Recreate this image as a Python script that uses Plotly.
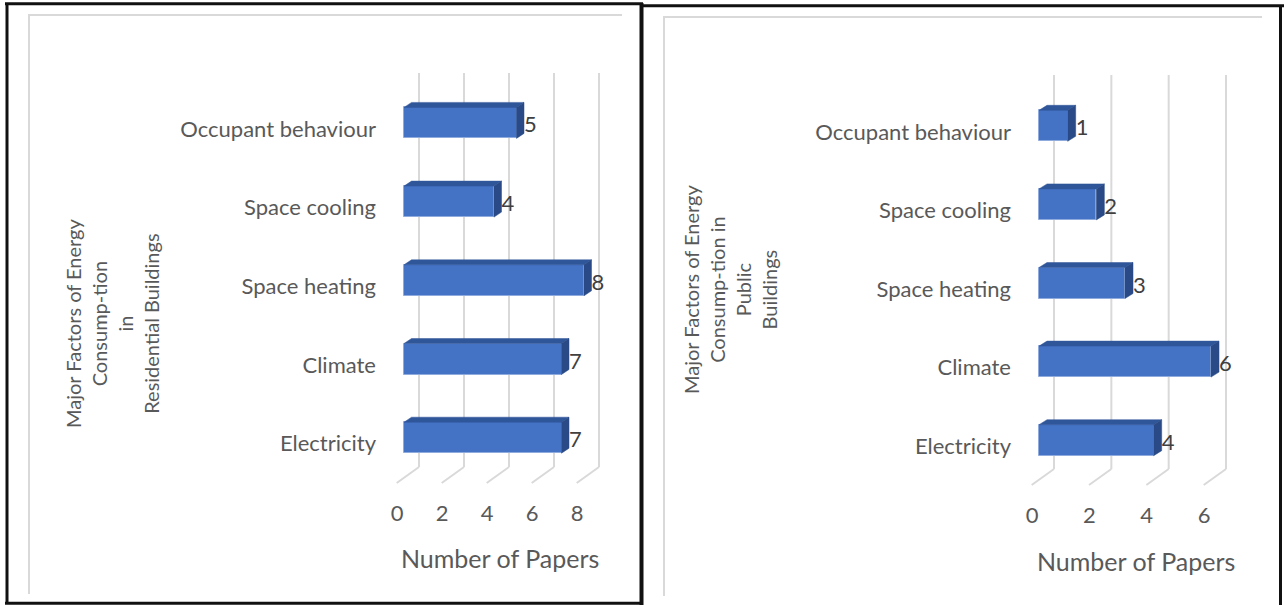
import plotly.graph_objects as go

W, H = 1284, 605

# ---------------- data ----------------
categories = ["Electricity", "Climate", "Space heating", "Space cooling", "Occupant behaviour"]
residential_papers = [7, 7, 8, 4, 5]
public_papers = [4, 6, 3, 2, 1]
residential_ticks = [0, 2, 4, 6, 8]
public_ticks = [0, 2, 4, 6]
x_title = "Number of Papers"
residential_title = "Major Factors of Energy<br>Consump-tion<br>in<br>Residential Buildings"
public_title = "Major Factors of Energy<br>Consump-tion in<br>Public<br>Buildings"

# ---------------- styling / geometry ----------------
FONT = "Lato"
TXT = "#595959"
VAL = "#404040"
FRONT = "#4472C4"
TOP = "#30569A"
SIDE = "#294A86"
GRID = "#D9D9D9"

panels = [
    dict(sfx="", vals=residential_papers, ticks=residential_ticks, title=residential_title,
         x0px=404.0, pxu=22.5, y0px=437.7, pyu=78.7,
         xdom=(385, 622), ydom=(60, 494), grid_top=73, grid_bot=467,
         back=15.0, diag=(-22.3, 16.0), depth=(7.5, 5.0), barh=31.0,
         ytitle=(112, 324), xtitle=(500, 558)),
    dict(sfx="2", vals=public_papers, ticks=public_ticks, title=public_title,
         x0px=1039.0, pxu=28.67, y0px=440.2, pyu=78.6,
         xdom=(1020, 1258), ydom=(60, 496), grid_top=75, grid_bot=469,
         back=15.0, diag=(-22.3, 16.0), depth=(8.0, 5.0), barh=31.0,
         ytitle=(730, 290), xtitle=(1136, 561)),
]
LABEL_DROP_PX = 4.0


def fx(px):
    return px / W


def fy(py):
    return 1 - py / H


fig = go.Figure()
layout = {}
annotations = []
shapes = []

for p in panels:
    xa = "x" + p["sfx"]
    ya = "y" + p["sfx"]
    pxu, pyu = p["pxu"], p["pyu"]

    def yv(py, p=p):
        return (p["y0px"] - py) / p["pyu"]

    xr = [(p["xdom"][0] - p["x0px"]) / pxu, (p["xdom"][1] - p["x0px"]) / pxu]
    yr = [yv(p["ydom"][1]), yv(p["ydom"][0])]

    # back-wall gridlines and floor lines (behind the bars)
    back = p["back"] / pxu
    ddx, ddy = p["diag"][0] / pxu, -p["diag"][1] / pyu
    ybot, ytop = yv(p["grid_bot"]), yv(p["grid_top"])
    for t in p["ticks"]:
        shapes.append(dict(type="line", xref=xa, yref=ya, layer="below",
                           x0=t + back, x1=t + back, y0=ybot, y1=ytop,
                           line=dict(color=GRID, width=2)))
        shapes.append(dict(type="line", xref=xa, yref=ya, layer="below",
                           x0=t + back, x1=t + back + ddx, y0=ybot, y1=ybot + ddy,
                           line=dict(color=GRID, width=2)))

    idx = list(range(len(categories)))
    bw = p["barh"] / pyu
    fig.add_trace(go.Bar(x=p["vals"], y=idx, orientation="h", width=bw,
                         marker=dict(color=FRONT, line=dict(color="#8FAADC", width=1)),
                         showlegend=False, xaxis=xa, yaxis=ya))

    dx, dy = p["depth"][0] / pxu, p["depth"][1] / pyu
    tx, ty, sx, sy = [], [], [], []
    for i, v in zip(idx, p["vals"]):
        yt, yb = i + bw / 2, i - bw / 2
        tx += [0, v, v + dx, dx, 0, None]
        ty += [yt, yt, yt + dy, yt + dy, yt, None]
        sx += [v, v + dx, v + dx, v, v, None]
        sy += [yt, yt + dy, yb + dy, yb, yt, None]
    fig.add_trace(go.Scatter(x=tx, y=ty, mode="lines", fill="toself", fillcolor=TOP,
                             line=dict(color=TOP, width=0.5), hoverinfo="skip",
                             showlegend=False, xaxis=xa, yaxis=ya))
    fig.add_trace(go.Scatter(x=sx, y=sy, mode="lines", fill="toself", fillcolor=SIDE,
                             line=dict(color=SIDE, width=0.5), hoverinfo="skip",
                             showlegend=False, xaxis=xa, yaxis=ya))
    drop = LABEL_DROP_PX / pyu
    fig.add_trace(go.Scatter(x=[v + dx for v in p["vals"]], y=[i - drop for i in idx],
                             mode="text",
                             text=[str(v) for v in p["vals"]], textposition="middle right",
                             textfont=dict(family=FONT, size=22, color=VAL), cliponaxis=False,
                             hoverinfo="skip", showlegend=False, xaxis=xa, yaxis=ya))

    layout["xaxis" + p["sfx"]] = dict(
        domain=[fx(p["xdom"][0]), fx(p["xdom"][1])], range=xr, anchor=ya,
        tickvals=p["ticks"], ticktext=[str(t) for t in p["ticks"]],
        showgrid=False, zeroline=False, showline=False, ticks="",
        ticklabelshift=-7, ticklabelstandoff=4,
        tickfont=dict(family=FONT, size=22, color=TXT), fixedrange=True)
    layout["yaxis" + p["sfx"]] = dict(
        domain=[fy(p["ydom"][1]), fy(p["ydom"][0])], range=yr, anchor=xa,
        tickvals=idx, ticktext=categories,
        showgrid=False, zeroline=False, showline=False, ticks="",
        ticklabelshift=6, ticklabelstandoff=8,
        tickfont=dict(family=FONT, size=22, color=TXT), fixedrange=True)

    annotations.append(dict(text=p["title"], x=fx(p["ytitle"][0]), y=fy(p["ytitle"][1]),
                            xref="paper", yref="paper", showarrow=False, textangle=-90,
                            xanchor="center", yanchor="middle", align="center",
                            font=dict(family=FONT, size=20, color=TXT)))
    annotations.append(dict(text=x_title, x=fx(p["xtitle"][0]), y=fy(p["xtitle"][1]),
                            xref="paper", yref="paper", showarrow=False,
                            xanchor="center", yanchor="middle",
                            font=dict(family=FONT, size=25, color=TXT)))


def line(x0, y0, x1, y1, color, width):
    shapes.append(dict(type="line", xref="paper", yref="paper",
                       x0=fx(x0), y0=fy(y0), x1=fx(x1), y1=fy(y1),
                       line=dict(color=color, width=width)))


# light inner chart-area edges
line(28, 15, 622, 15, GRID, 2)
line(29, 15, 29, 594, GRID, 2)
line(663, 17, 1262, 17, GRID, 2)
line(664, 17, 664, 596, GRID, 2)
# black outer frames
line(5, 3.7, 643, 3.7, "#111111", 3)
line(7, 3, 7, 604, "#111111", 3)
line(5, 603.3, 643, 603.3, "#111111", 3)
line(641.5, 3, 641.5, 605, "#111111", 4)
line(641, 5.7, 1284, 5.7, "#111111", 3)
line(1280.5, 5, 1280.5, 605, "#111111", 3)

fig.update_layout(
    width=W, height=H, margin=dict(l=0, r=0, t=0, b=0),
    paper_bgcolor="white", plot_bgcolor="white",
    showlegend=False, bargap=0, annotations=annotations, shapes=shapes,
    font=dict(family=FONT, color=TXT),
    **layout,
)

fig.write_html("out.html")
